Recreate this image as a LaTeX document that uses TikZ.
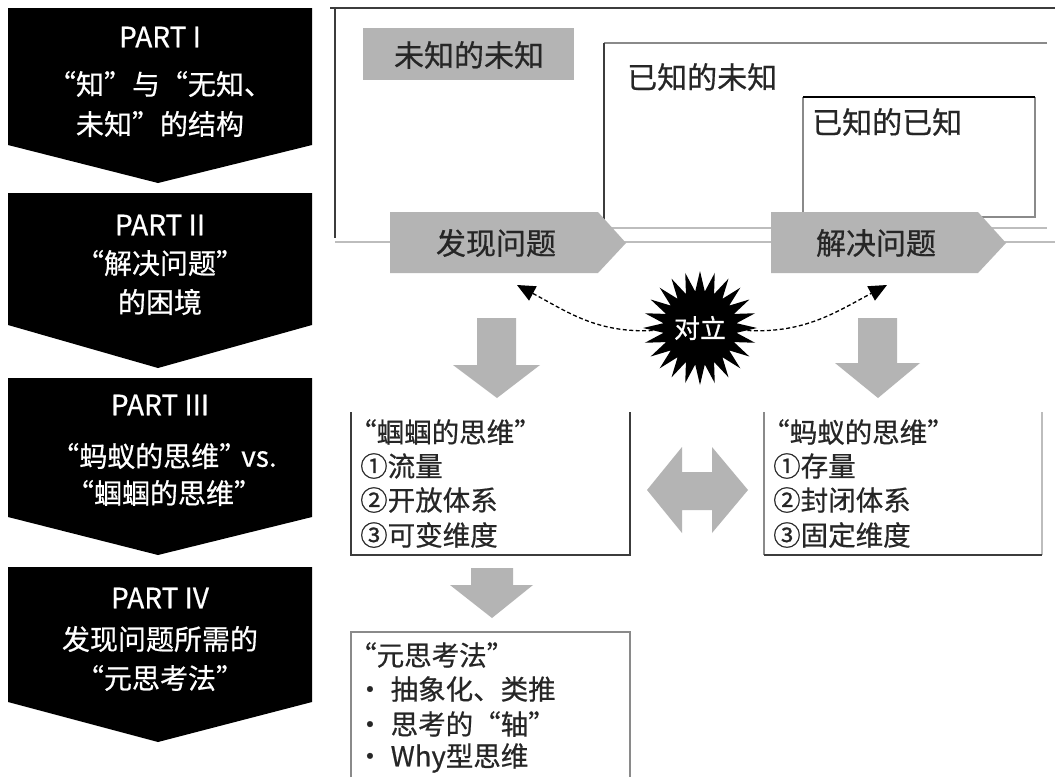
\documentclass[tikz,border=0pt]{standalone}
\usepackage{fontspec}
\setmainfont{Noto Sans CJK SC}
\newfontfamily\heavycjk[FakeBold=0.6]{Noto Sans CJK SC}
\usetikzlibrary{shapes.geometric,arrows.meta}
\definecolor{blockgray}{HTML}{B4B4B4}
\definecolor{linedark}{HTML}{3C3C3C}
\definecolor{linemid}{HTML}{8A8A8A}
\definecolor{linelight}{HTML}{BDBDBD}
\tikzset{
  chevron/.style={fill=black, draw=none},
  chevtext/.style={text=white, inner sep=0pt, font=\heavycjk\fontsize{28}{32}\selectfont},
  toplabel/.style={inner sep=0pt, text=black!85, font=\heavycjk\fontsize{30}{34}\selectfont},
  boxtext/.style={inner sep=0pt, anchor=west, text=black!85, font=\heavycjk\fontsize{27.5}{30}\selectfont},
  blockarrow/.style={fill=blockgray, draw=none},
  dasharrow/.style={draw=black, line width=1.3pt, dash pattern=on 4pt off 2.5pt, -{Triangle[length=18pt,width=16pt]}},
}
\newcommand{\oq}{\kern-13pt“}
\begin{document}
\begin{tikzpicture}[x=1pt,y=1pt]
\path[use as bounding box, fill=white] (0,0) rectangle (1055,-777);

% ---- left chevrons ----
\fill[chevron] (8,-8) -- (312,-8) -- (312,-145) -- (158,-183) -- (8,-145) -- cycle;
\fill[chevron] (8,-193) -- (312,-193) -- (312,-325) -- (158,-368) -- (8,-325) -- cycle;
\fill[chevron] (8,-378) -- (312,-378) -- (312,-517) -- (158,-555) -- (8,-517) -- cycle;
\fill[chevron] (8,-567) -- (312,-567) -- (312,-702) -- (158,-742) -- (8,-702) -- cycle;

\node[chevtext] (p1a) at (160,-37) {PART I};
\node[chevtext] (p1b) at (160,-84) {“知”与“无知、};
\node[chevtext] (p1c) at (160,-124) {未知”的结构};

\node[chevtext] (p2a) at (160,-225) {PART II};
\node[chevtext] (p2b) at (160,-263) {“解决问题”};
\node[chevtext] (p2c) at (160,-302) {的困境};

\node[chevtext] (p3a) at (160,-405) {PART III};
\node[chevtext] (p3b) at (164,-456) {“蚂蚁的思维”\kern-6pt vs.};
\node[chevtext] (p3c) at (164,-493) {“蝈蝈的思维”};

\node[chevtext] (p4a) at (160,-598) {PART IV};
\node[chevtext] (p4b) at (160,-639) {发现问题所需的};
\node[chevtext] (p4c) at (160,-678) {“元思考法”};

% ---- top frame ----
\draw[linedark, line width=2pt] (330,-8) -- (1055,-8);
\draw[linedark, line width=1.5pt] (335,-9) -- (335,-238);
\draw[linelight, line width=1.5pt] (335,-242) -- (1055,-242);

\fill[blockgray] (363,-28) rectangle (574,-80);
\node[toplabel] (uu) at (469,-55) {未知的未知};

\draw[linemid, line width=1.3pt] (1047,-43) -- (604,-43);
\draw[linedark, line width=1.3pt] (604,-43) -- (604,-228);
\draw[linelight, line width=1.3pt] (604,-228) -- (1047,-228);
\node[toplabel, anchor=west] (ku) at (627,-77) {已知的未知};

\draw[linemid, line width=1.3pt] (803,-97) -- (803,-217) -- (1035,-217) -- (1035,-97);
\draw[black, line width=1.5pt] (803,-97) -- (1035,-97);
\node[toplabel, anchor=west] (kk) at (812,-122) {已知的已知};

\fill[blockarrow] (390,-212) -- (598,-212) -- (626,-243) -- (598,-273) -- (390,-273) -- cycle;
\node[toplabel] (find) at (496,-243) {发现问题};
\fill[blockarrow] (771,-212) -- (978,-212) -- (1006,-243) -- (978,-273) -- (771,-273) -- cycle;
\node[toplabel] (solve) at (876,-243) {解决问题};

% ---- conflict ----
\node[star, star points=24, star point ratio=1.55, minimum size=102pt, fill=black, inner sep=0pt,
      text=white, font=\heavycjk\fontsize{26}{28}\selectfont] (burst) at (700,-328) {对立};
\coordinate (ltip) at (517,-285);
\coordinate (rtip) at (887,-285);
\draw[dasharrow] (burst.183) to[out=183,in=-28] (ltip);
\draw[dasharrow] (burst.-3) to[out=-3,in=-152] (rtip);

% ---- down arrows ----
\fill[blockarrow] (477,-318) -- (516,-318) -- (516,-365) -- (540,-365) -- (497,-398) -- (453,-365) -- (477,-365) -- cycle;
\fill[blockarrow] (858,-318) -- (897,-318) -- (897,-363) -- (920,-363) -- (878,-398) -- (835,-363) -- (858,-363) -- cycle;
\fill[blockarrow] (471,-568) -- (513,-568) -- (513,-585) -- (533,-585) -- (492,-618) -- (450,-585) -- (471,-585) -- cycle;

% ---- double arrow ----
\fill[blockarrow] (647,-490) -- (682,-447) -- (682,-472) -- (712,-472) -- (712,-447) -- (748,-490)
   -- (712,-533) -- (712,-510) -- (682,-510) -- (682,-533) -- cycle;

% ---- lower boxes ----
\draw[linedark, line width=1.5pt] (351,-412) -- (351,-555) -- (630,-555) -- (630,-412);
\node[boxtext] (g0) at (362,-432) {\oq 蝈蝈的思维”};
\node[boxtext] (g1) at (360,-466) {①流量};
\node[boxtext] (g2) at (360,-500) {②开放体系};
\node[boxtext] (g3) at (360,-535) {③可变维度};

\draw[linemid, line width=1.3pt] (764,-412) -- (764,-555);
\draw[linelight, line width=1.3pt] (1042,-412) -- (1042,-555);
\draw[linedark, line width=1.5pt] (764,-555) -- (1042,-555);
\node[boxtext] (a0) at (775,-432) {\oq 蚂蚁的思维”};
\node[boxtext] (a1) at (773,-466) {①存量};
\node[boxtext] (a2) at (773,-500) {②封闭体系};
\node[boxtext] (a3) at (773,-535) {③固定维度};

\draw[linemid, line width=1.3pt] (351,-777) -- (351,-632) -- (630,-632) -- (630,-777);
\node[boxtext] (m0) at (362,-655) {\oq 元思考法”};
\node[boxtext] (m1) at (356,-689) {・\kern7pt 抽象化、类推};
\node[boxtext] (m2) at (356,-724) {・\kern7pt 思考的“轴”};
\node[boxtext] (m3) at (356,-758) {・\kern7pt Why型思维};
\end{tikzpicture}
\end{document}
